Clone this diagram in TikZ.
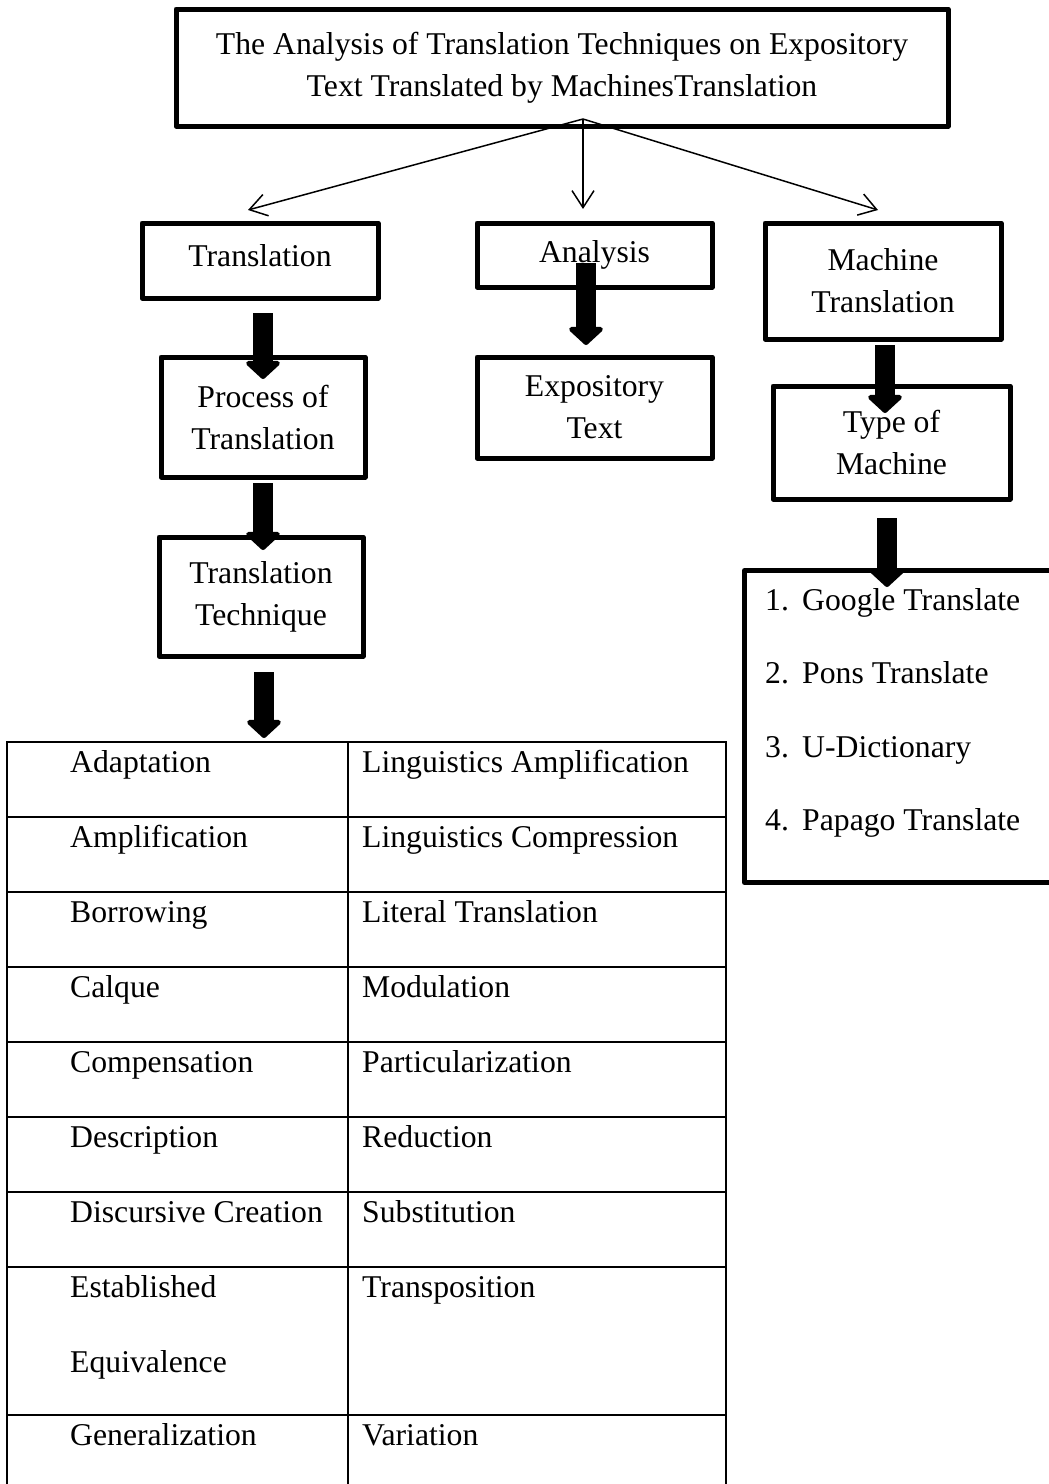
\documentclass[tikz,border=0pt]{standalone}
\usepackage{fontspec}
\setmainfont{Liberation Serif}
\usetikzlibrary{arrows.meta,calc}
\begin{document}
\begin{tikzpicture}[x=1pt,y=-1pt,
  every node/.style={font=\fontsize{31.7}{42}\selectfont},
  box/.style={draw, line width=5pt, inner sep=0pt, align=center, line join=round},
  thinarrow/.style={line width=1.5pt, -{Straight Barb[length=17pt,width=22pt]}},
  fatarrow/.style={line width=20pt, -{Triangle[width=40pt,length=19pt,round]}},
  tbl/.style={line width=2pt},
  cell/.style={anchor=base west, inner sep=0pt}]
\fill[white] (0,0) rectangle (1049,1484);
\useasboundingbox (0,0) rectangle (1049,1484);

% boxes
\node[box, minimum width=772pt, minimum height=117pt] (top) at (562,67.5)
  {The Analysis of Translation Techniques on Expository\\Text Translated by MachinesTranslation};
\node[box, minimum width=236pt, minimum height=75pt, text depth=10pt] (trans) at (260,260.5) {Translation};
\node[box, minimum width=235pt, minimum height=64pt] (anal) at (594.5,255) {Analysis};
\node[box, minimum width=236pt, minimum height=116pt] (mt) at (883,281) {Machine\\Translation};
\node[box, minimum width=204pt, minimum height=120pt] (proc) at (263,417) {Process of\\Translation};
\node[box, minimum width=235pt, minimum height=101pt] (expo) at (594.5,407.5) {Expository\\Text};
\node[box, minimum width=237pt, minimum height=113pt] (type) at (891.5,442.5) {Type of\\Machine};
\node[box, minimum width=204pt, minimum height=119pt] (tech) at (261,596.5) {Translation\\Technique};
\node[box, anchor=north west, minimum width=340pt, minimum height=312pt] (list) at (742,568) {};

% list items
\node[cell] (n1) at (765,610) {1.};
\node[cell] (i1) at (802,610) {Google Translate};
\node[cell] (n2) at (765,683) {2.};
\node[cell] (i2) at (802,683) {Pons Translate};
\node[cell] (n3) at (765,757) {3.};
\node[cell] (i3) at (802,757) {U-Dictionary};
\node[cell] (n4) at (765,830) {4.};
\node[cell] (i4) at (802,830) {Papago Translate};

% thin arrows
\coordinate (hub) at (583,119);
\coordinate (e1) at (248,210);
\coordinate (e2) at (583,209);
\coordinate (e3) at (878,210);
\draw[thinarrow] (hub) -- (e1);
\draw[thinarrow] (hub) -- (e2);
\draw[thinarrow] (hub) -- (e3);

% fat arrows
\coordinate (a1s) at (263,313);  \coordinate (a1e) at (263,379);
\coordinate (a2s) at (586,263);  \coordinate (a2e) at (586,345);
\coordinate (a3s) at (885,345);  \coordinate (a3e) at (885,413);
\coordinate (a4s) at (263,483);  \coordinate (a4e) at (263,550);
\coordinate (a5s) at (264,672);  \coordinate (a5e) at (264,738);
\coordinate (a6s) at (887,518);  \coordinate (a6e) at (887,587);
\draw[fatarrow] (a1s) -- (a1e);
\draw[fatarrow] (a2s) -- (a2e);
\draw[fatarrow] (a3s) -- (a3e);
\draw[fatarrow] (a4s) -- (a4e);
\draw[fatarrow] (a5s) -- (a5e);
\draw[fatarrow] (a6s) -- (a6e);

% table
\draw[tbl] (7,742) -- (7,1500);
\draw[tbl] (348,742) -- (348,1500);
\draw[tbl] (726,742) -- (726,1500);
\foreach \yy in {742,817,892,967,1042,1117,1192,1267,1415}
  \draw[tbl] (6,\yy) -- (727,\yy);

\node[cell] (l1) at (70,772) {Adaptation};
\node[cell] (l2) at (70,847) {Amplification};
\node[cell] (l3) at (70,922) {Borrowing};
\node[cell] (l4) at (70,997) {Calque};
\node[cell] (l5) at (70,1072) {Compensation};
\node[cell] (l6) at (70,1147) {Description};
\node[cell] (l7) at (70,1222) {Discursive Creation};
\node[cell] (l8) at (70,1297) {Established};
\node[cell] (l8b) at (70,1372) {Equivalence};
\node[cell] (l9) at (70,1445) {Generalization};

\node[cell] (r1) at (362,772) {Linguistics Amplification};
\node[cell] (r2) at (362,847) {Linguistics Compression};
\node[cell] (r3) at (362,922) {Literal Translation};
\node[cell] (r4) at (362,997) {Modulation};
\node[cell] (r5) at (362,1072) {Particularization};
\node[cell] (r6) at (362,1147) {Reduction};
\node[cell] (r7) at (362,1222) {Substitution};
\node[cell] (r8) at (362,1297) {Transposition};
\node[cell] (r9) at (362,1445) {Variation};
\end{tikzpicture}
\end{document}
